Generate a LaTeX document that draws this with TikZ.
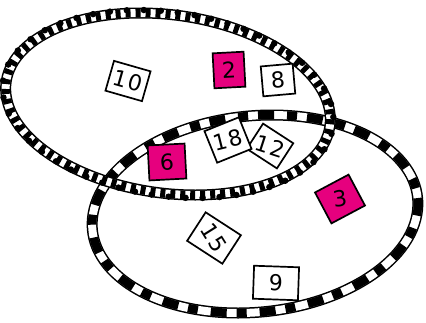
\documentclass[tikz,border=0pt]{standalone}
\usepackage{fontspec}
\setsansfont{DejaVu Sans}
\definecolor{mag}{HTML}{E6007E}
\tikzset{
  card/.style={draw=black, line width=1.7pt, fill=white, minimum width=34pt, minimum height=31pt, inner sep=0pt, font=\sffamily\fontsize{22}{22}\selectfont},
  pcard/.style={card, fill=mag},
  hoopouter/.style={line width=11pt, black},
  hoopinner/.style={line width=8pt, white},
}
\begin{document}
\begin{tikzpicture}[x=1pt,y=-1pt]
\useasboundingbox (0,0) rectangle (426,322);
% ring 2 (bottom right)
\begin{scope}[shift={(255,214)}, xslant=0.17]
\coordinate (c2) at (0,0);
\draw[hoopouter] (c2) ellipse [x radius=162pt, y radius=99pt];
\draw[hoopinner] (c2) ellipse [x radius=162pt, y radius=99pt];
\draw[line width=8.5pt, dash pattern=on 16pt off 10pt on 10pt off 13pt] (c2) ellipse [x radius=162pt, y radius=99pt];
\end{scope}
% cards under ring 1
\node[card, rotate=-33, minimum width=36pt, minimum height=30pt] (n12) at (270,146) {\rotatebox{15}{1\kern2pt 2}};
\node[card, rotate=22, minimum width=37pt, minimum height=34pt] (n18) at (228,140) {\rotatebox{-8}{1\kern1pt 8}};
% ring 1 (top left)
\begin{scope}[shift={(168,104)}, xslant=-0.3]
\coordinate (c1) at (0,0);
\draw[hoopouter] (c1) ellipse [x radius=160pt, y radius=91pt];
\draw[hoopinner] (c1) ellipse [x radius=160pt, y radius=91pt];
\draw[line width=8.5pt, dash pattern=on 5pt off 5pt] (c1) ellipse [x radius=160pt, y radius=91pt];
\draw[line width=6.5pt, line cap=round, dash pattern=on 0pt off 17pt] (c1) ellipse [x radius=163pt, y radius=94pt];
\end{scope}
% cards
\node[card, rotate=-16, minimum width=38pt, minimum height=31pt] (n10) at (128,81) {1\kern2pt 0};
\node[pcard, rotate=3, minimum width=31pt, minimum height=35pt] (n2) at (229,70) {2};
\node[card, rotate=5, minimum width=32pt, minimum height=30pt] (n8) at (278,80) {8};
\node[pcard, rotate=3, minimum width=37pt, minimum height=35pt] (n6) at (167,162) {6};
\node[pcard, rotate=28, minimum width=38pt, minimum height=35pt] (n3) at (340,199) {\rotatebox{-20}{3}};
\node[card, rotate=-33, minimum width=42pt, minimum height=34pt] (n15) at (214,238) {\rotatebox{-25}{1\kern2pt 5}};
\node[card, rotate=-2, minimum width=45pt, minimum height=33pt] (n9) at (276,283) {9};
\end{tikzpicture}
\end{document}
